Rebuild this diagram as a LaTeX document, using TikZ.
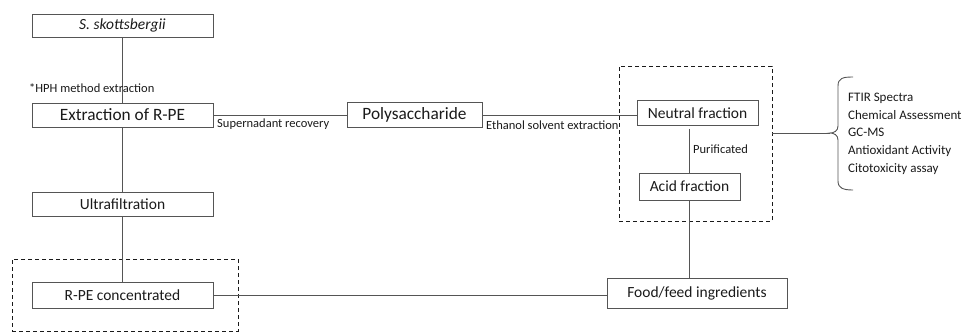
\documentclass[tikz,border=0pt]{standalone}
\usepackage{fontspec}
\setmainfont{Carlito}
\definecolor{lc}{HTML}{555555}
\definecolor{tc}{HTML}{1A1A1A}
\tikzset{
  box/.style={draw=lc, line width=0.9pt, rectangle, inner sep=0pt, text=tc, font=\fontsize{15.5}{18}\selectfont},
  bigbox/.style={box, font=\fontsize{17.3}{20}\selectfont},
  dbox/.style={draw=tc, dashed, dash pattern=on 4pt off 3pt, line width=0.9pt, rectangle, inner sep=0pt},
  conn/.style={draw=lc, line width=0.9pt},
  lbl/.style={text=tc, inner sep=0pt, font=\fontsize{12.5}{14}\selectfont},
}
\begin{document}
\begin{tikzpicture}[x=1pt,y=-1pt]
\useasboundingbox (0,0) rectangle (964,333);
% dashed groups
\node[dbox, minimum width=226, minimum height=72] (g1) at (125,295) {};
\node[dbox, minimum width=153, minimum height=155] (g2) at (695.5,143.5) {};
% boxes
\node[box, minimum width=181, minimum height=23] (s) at (122.5,25.5) {\itshape S. skottsbergii};
\node[bigbox, minimum width=181, minimum height=24] (ext) at (122.5,115) {Extraction of R-PE};
\node[box, minimum width=181, minimum height=24] (ultra) at (122.5,204) {Ultrafiltration};
\node[box, minimum width=181, minimum height=26] (rpe) at (122.5,295) {R-PE concentrated};
\node[bigbox, minimum width=135, minimum height=25] (poly) at (414.5,115) {Polysaccharide};
\node[box, minimum width=121, minimum height=25] (neu) at (697.5,113) {Neutral fraction};
\node[box, minimum width=101, minimum height=27] (acid) at (689.5,186.5) {Acid fraction};
\node[box, minimum width=180, minimum height=30] (food) at (697,293) {Food/feed ingredients};
% connectors
\draw[conn] (s) -- (ext);
\draw[conn] (ext) -- (ultra);
\draw[conn] (ultra) -- (rpe);
\draw[conn] (ext.east) -- (poly.west);
\draw[conn] (poly.east) -- (poly.east -| neu.west);
\draw[conn] (acid.north |- neu.south) ++(0,3) -- (acid.north);
\draw[conn] (acid.south) -- (acid.south |- food.north);
\draw[conn] (rpe.east) -- (rpe.east -| food.west);
\coordinate (tip) at (830,133);
\draw[conn] (tip -| g2.east) -- (tip);
% brace
\draw[conn] (853,77) .. controls (843,77) and (838,78) .. (838,86) -- (838,126)
  .. controls (838,131) and (834,133) .. (tip)
  .. controls (834,133) and (838,135) .. (838,140) -- (838,181)
  .. controls (838,188) and (843,190) .. (853,190);
% labels
\node[lbl, anchor=west] (hph) at (29,88) {*HPH method extraction};
\node[lbl, anchor=west] (sup) at (217,124) {Supernadant recovery};
\node[lbl, anchor=west] (eth) at (486,125) {Ethanol solvent extraction};
\node[lbl, anchor=west] (pur) at (693,149) {Purificated};
\node[lbl, anchor=north west, align=left, font=\fontsize{13}{17.6}\selectfont] (list) at (848,93) {FTIR Spectra\\Chemical Assessment\\GC-MS\\Antioxidant Activity\\Citotoxicity assay};
\end{tikzpicture}
\end{document}
